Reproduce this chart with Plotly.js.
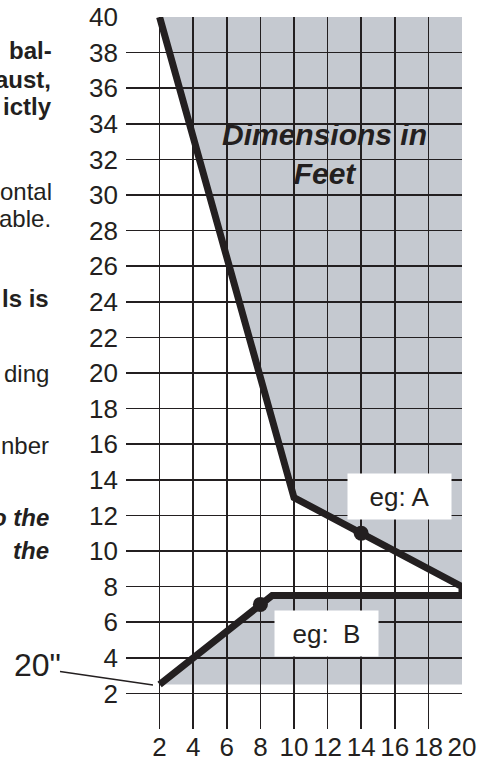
<!DOCTYPE html>
<html>
<head>
<meta charset="utf-8">
<script src="https://cdn.plot.ly/plotly-3.0.1.min.js"></script>
<style>html,body{margin:0;padding:0;background:#fff;}#chart{width:479px;height:762px;}</style>
</head>
<body>
<div id="chart"></div>
<script>
// ---- data ----
const xTicks = [2, 4, 6, 8, 10, 12, 14, 16, 18, 20];
const yTicks = [0, 2, 4, 6, 8, 10, 12, 14, 16, 18, 20, 22, 24, 26, 28, 30, 32, 34, 36, 38, 40];
const yTickText = ['', '2', '4', '6', '8', '10', '12', '14', '16', '18', '20', '22', '24', '26', '28', '30', '32', '34', '36', '38', '40'];
// boundary line (eg: A upper part, eg: B lower part)
const lineX = [2, 10, 20, 20, 8.7, 2];
const lineY = [40, 13, 8, 7.5, 7.5, 2.5];
// example points
const pointX = [14, 8];
const pointY = [11, 7];
// shaded regions
const upperX = [2, 10, 20, 20];
const upperY = [40, 13, 8, 40];
const lowerX = [2, 8.7, 20, 20];
const lowerY = [2.5, 7.5, 7.5, 2.5];
// side text fragments (cut off page text)
const sideText = ['bal-', 'aust,', 'ictly', 'ontal', 'able.', 'ls is', 'ding', 'nber', 'o the', 'the'];
const sideStyle = ['bold', 'bold', 'bold', 'regular', 'regular', 'bold', 'regular', 'regular', 'bolditalic', 'bolditalic'];

// ---- layout helpers ----
const W = 479, H = 762, ML = 126, MR = 17, MT = 17, MB = 33;
const PW = W - ML - MR, PH = H - MT - MB;
const px2paperX = p => (p - ML) / PW;
const px2paperY = p => (H - MB - p) / PH;
const ink = '#231f20';
const FONT = 'Arial, "Liberation Sans", Helvetica, sans-serif';

function pathFrom(xs, ys) {
  return xs.map((x, i) => (i === 0 ? 'M ' : 'L ') + x + ',' + ys[i]).join(' ') + ' Z';
}

const sideY = [51, 79, 106, 191, 218, 298, 373, 445, 517, 550];
const sideR = [54, 53, 54, 54, 53, 51, 51, 51, 51, 51];

const annotations = sideText.map((t, i) => {
  const st = sideStyle[i];
  return {
    xref: 'paper', yref: 'paper', x: px2paperX(sideR[i]), y: px2paperY(sideY[i]),
    xanchor: 'right', yanchor: 'middle', showarrow: false, text: t,
    font: {family: FONT, size: 24, color: ink,
      weight: (st === 'bold' || st === 'bolditalic') ? 'bold' : 'normal',
      style: st === 'bolditalic' ? 'italic' : 'normal'}
  };
});

annotations.push({
  xref: 'x', yref: 'y', x: 11.8, y: 32.3, showarrow: false,
  text: 'Dimensions in<br>Feet', align: 'center',
  font: {family: FONT, size: 30, color: ink, weight: 'bold', style: 'italic'}
});
annotations.push({
  xref: 'x', yref: 'y', x: 16.28, y: 13.07, showarrow: false,
  text: 'eg: A', width: 103, height: 45, bgcolor: '#ffffff', borderpad: 0,
  font: {family: FONT, size: 26, color: ink}
});
annotations.push({
  xref: 'x', yref: 'y', x: 11.95, y: 5.34, showarrow: false,
  text: 'eg:&nbsp; B', width: 103, height: 45, bgcolor: '#ffffff', borderpad: 0,
  font: {family: FONT, size: 26, color: ink}
});
annotations.push({
  xref: 'paper', yref: 'paper', x: px2paperX(37), y: px2paperY(665), showarrow: false,
  text: '20"', xanchor: 'center', yanchor: 'middle',
  font: {family: FONT, size: 32, color: ink}
});

const shapes = [
  {type: 'path', xref: 'x', yref: 'y', path: pathFrom(upperX, upperY), fillcolor: '#c5c9d0', line: {width: 0}, layer: 'below'},
  {type: 'path', xref: 'x', yref: 'y', path: pathFrom(lowerX, lowerY), fillcolor: '#c5c9d0', line: {width: 0}, layer: 'below'},
  {type: 'line', xref: 'paper', yref: 'paper', x0: px2paperX(60), y0: px2paperY(671.5), x1: px2paperX(153), y1: px2paperY(685), line: {color: ink, width: 1.3}}
];

const traces = [
  {x: lineX, y: lineY, mode: 'lines', line: {color: ink, width: 7}, hoverinfo: 'skip'},
  {x: pointX, y: pointY, mode: 'markers', marker: {color: ink, size: 15}, hoverinfo: 'skip', cliponaxis: false}
];

const axisCommon = {
  showgrid: true, gridcolor: ink, gridwidth: 1.6, zeroline: false, showline: false,
  ticks: '', tickfont: {family: FONT, size: 26, color: ink}, fixedrange: true
};

const layout = {
  width: W, height: H, margin: {l: ML, r: MR, t: MT, b: MB, pad: 0},
  paper_bgcolor: '#ffffff', plot_bgcolor: '#ffffff', showlegend: false,
  xaxis: Object.assign({}, axisCommon, {range: [0, 20], tickmode: 'array', tickvals: xTicks, ticktext: xTicks.map(String), ticklabelstandoff: 0}),
  yaxis: Object.assign({}, axisCommon, {range: [0, 40], tickmode: 'array', tickvals: yTicks, ticktext: yTickText, ticklabelstandoff: 7}),
  annotations: annotations, shapes: shapes
};

Plotly.newPlot('chart', traces, layout, {staticPlot: true, displayModeBar: false});
</script>
</body>
</html>
